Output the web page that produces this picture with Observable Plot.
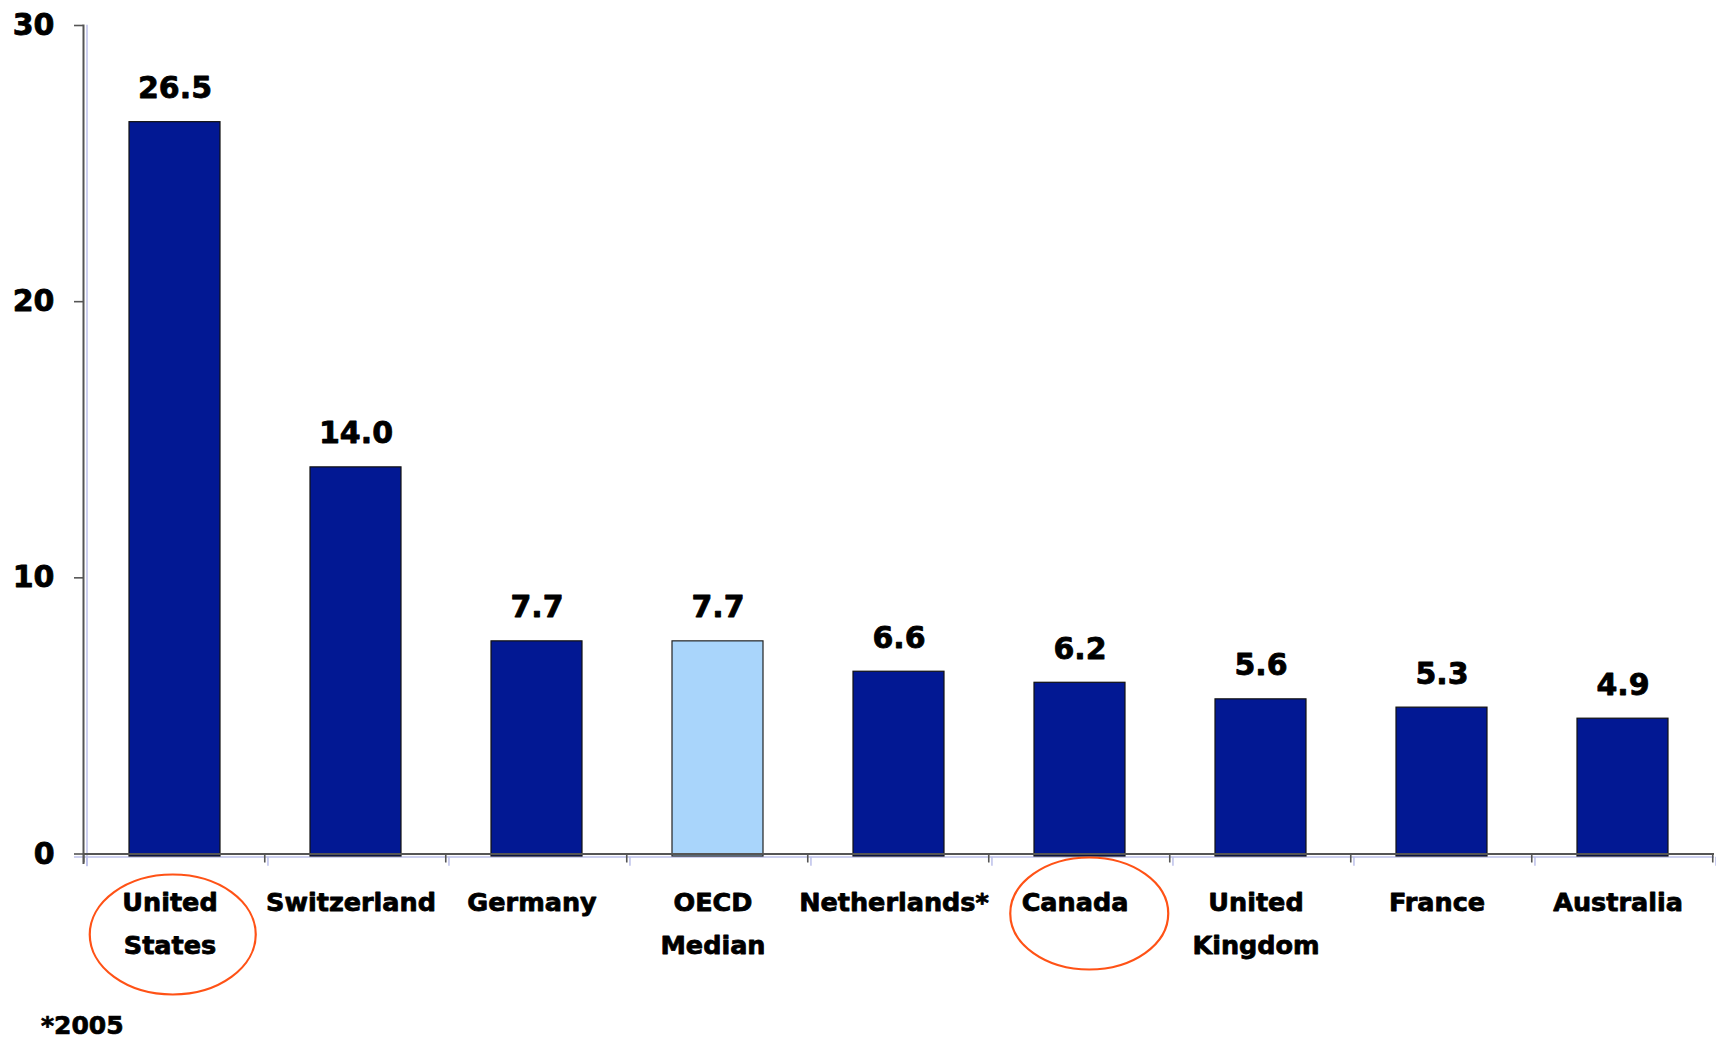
<!DOCTYPE html>
<html><head><meta charset="utf-8">
<script src="https://cdn.jsdelivr.net/npm/d3@7"></script>
<script src="https://cdn.jsdelivr.net/npm/@observablehq/plot@0.6"></script>
<style>
body{margin:0;background:#fff;font-family:"DejaVu Sans",sans-serif;}
#wrap{position:relative;width:1716px;height:1039px;}
#note{position:absolute;left:41px;top:1016px;font-weight:bold;font-size:25px;line-height:20px;font-family:"DejaVu Sans",sans-serif;color:#000;-webkit-text-stroke:0.7px #000;}
#chart text{stroke:#000;stroke-width:0.8px;stroke-linejoin:round;}
</style></head><body>
<div id="wrap"><div id="chart"></div><div id="note"></div></div>
<script>
const categories = ["United States","Switzerland","Germany","OECD Median","Netherlands*","Canada","United Kingdom","France","Australia"];
const tickLabels = ["United\nStates","Switzerland","Germany","OECD\nMedian","Netherlands*","Canada","United\nKingdom","France","Australia"];
const values = [26.5,14.0,7.7,7.7,6.6,6.2,5.6,5.3,4.9];
const yTicks = [0,10,20,30];
const highlighted = ["United States","Canada"];
const medianCategory = "OECD Median";
const footnote = "*2005";

document.getElementById("note").textContent = footnote;

const data = categories.map((c,i)=>({category:c, value:values[i], label:tickLabels[i]}));
const countryData = data.filter(d=>d.category!==medianCategory);
const medianData = data.filter(d=>d.category===medianCategory);

const DARK = "#021893", LIGHT = "#a9d5fb", AXIS = "#555", SHADOW = "#bcc0ea", RING = "#ff5216";

function boundaryTicks(color, off, width){
  return (index, scales) => {
    const x = scales.x, y0 = scales.y(0);
    const step = x(categories[1]) - x(categories[0]);
    const bw = step * 0.5;
    const start = x(categories[0]) - (step - bw)/2;
    const g = d3.create("svg:g");
    for (let i=0;i<=categories.length;i++){
      const xx = start + i*step + off;
      g.append("line").attr("x1",xx).attr("x2",xx).attr("y1",y0+off).attr("y2",y0+9+off)
        .attr("stroke",color).attr("stroke-width",width);
    }
    return g.node();
  };
}

// annotation rings drawn around highlighted category labels (pixel styling of the annotation)
function rings(index, scales){
  const ringShape = {"United States":{dx:-1.5, dy:81, rx:83, ry:60}, "Canada":{dx:10, dy:60, rx:79, ry:56}};
  const x = scales.x, y0 = scales.y(0);
  const step = x(categories[1]) - x(categories[0]);
  const bw = step * 0.5;
  const g = d3.create("svg:g");
  for (const c of highlighted){
    const s = ringShape[c] || {dx:0, dy:70, rx:80, ry:58};
    g.append("ellipse")
      .attr("cx", x(c) + bw/2 + s.dx)
      .attr("cy", y0 + s.dy)
      .attr("rx", s.rx).attr("ry", s.ry)
      .attr("fill","none").attr("stroke",RING).attr("stroke-width",2.2);
  }
  return g.node();
}

const chart = Plot.plot({
  width:1716, height:1000,
  marginLeft:83, marginRight:2, marginTop:25, marginBottom:146.5,
  style:{fontFamily:"DejaVu Sans", background:"#fff", overflow:"visible", color:"#000"},
  x:{type:"band", domain:categories, paddingInner:0.5, paddingOuter:0.25, align:0.5},
  y:{domain:[0,30]},
  marks:[
    Plot.frame({anchor:"left", stroke:SHADOW, strokeWidth:1.5, dx:3.5, insetBottom:-11.5}),
    Plot.ruleY([0], {stroke:SHADOW, strokeWidth:1.5, dy:3, insetLeft:-9}),
    boundaryTicks(SHADOW, 3.2, 1.5),
    Plot.barY(countryData, {x:"category", y:"value", fill:DARK, stroke:"#111", strokeWidth:1.2, insetBottom:-2.5}),
    Plot.barY(medianData, {x:"category", y:"value", fill:LIGHT, stroke:"#222", strokeWidth:1.2, insetBottom:-2.5}),
    Plot.frame({anchor:"left", stroke:AXIS, strokeWidth:2, insetBottom:-9}),
    Plot.ruleY([0], {stroke:AXIS, strokeWidth:2}),
    boundaryTicks(AXIS, 0, 1.6),
    Plot.axisY({ticks:yTicks, tickSize:9, tickPadding:20, fontSize:30, fontWeight:"bold", stroke:AXIS, strokeWidth:1.6, color:"#000", label:null}),
    Plot.axisX({tickSize:0, tickPadding:26, tickFormat:d=>tickLabels[categories.indexOf(d)], fontSize:25.5, fontWeight:"bold", lineHeight:1.7, lineAnchor:"top", color:"#000", dx:-5, label:null}),
    Plot.text(data, {x:"category", y:"value", text:d=>d.value.toFixed(1), lineAnchor:"bottom", dy:-24, fontSize:30, fontWeight:"bold", fill:"#000"}),
    rings
  ]
});
document.getElementById("chart").appendChild(chart);
</script>
</body></html>
